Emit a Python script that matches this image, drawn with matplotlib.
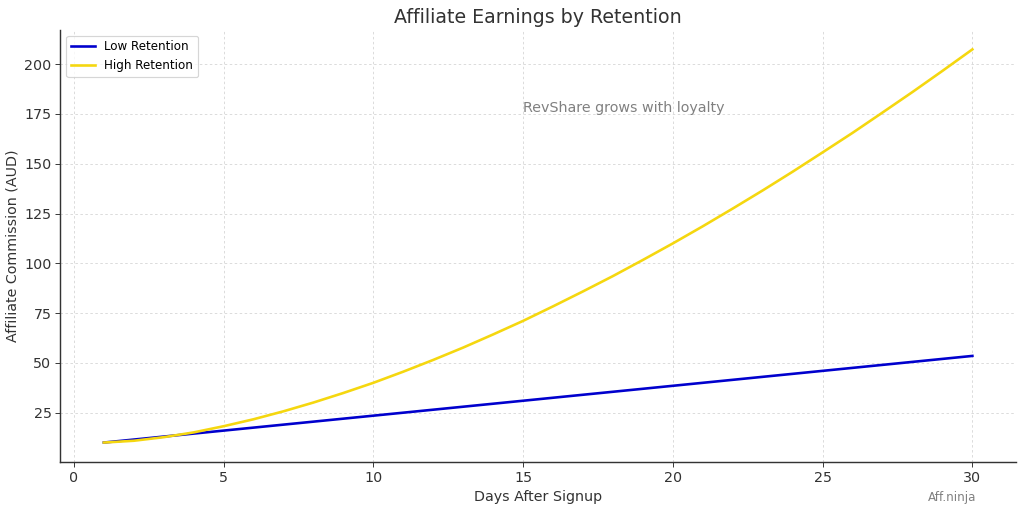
import matplotlib
matplotlib.use("Agg")
import matplotlib.pyplot as plt

days = list(range(1, 31))
low_retention = [10.0, 11.5, 13.0, 14.5, 16.0, 17.5, 19.0, 20.5, 22.0, 23.5,
                 25.0, 26.5, 28.0, 29.5, 31.0, 32.5, 34.0, 35.5, 37.0, 38.5,
                 40.0, 41.5, 43.0, 44.5, 46.0, 47.5, 49.0, 50.5, 52.0, 53.5]
high_retention = [10.0, 10.9, 12.7, 15.1, 18.2, 21.7, 25.7, 30.1, 34.9, 40.0,
                  45.6, 51.5, 57.7, 64.3, 71.1, 78.4, 85.9, 93.6, 101.7, 110.0,
                  118.6, 127.5, 136.6, 146.0, 155.7, 165.5, 175.7, 186.0, 196.6, 207.4]
series_labels = ["Low Retention", "High Retention"]
title = "Affiliate Earnings by Retention"
xlabel = "Days After Signup"
ylabel = "Affiliate Commission (AUD)"
note = "RevShare grows with loyalty"
watermark = "Aff.ninja"

plt.rcParams['font.family'] = ['DejaVu Sans']
fig, ax = plt.subplots(figsize=(12, 6.012), dpi=1024 / 12)
fig.subplots_adjust(left=0.059, right=0.992, top=0.942, bottom=0.099)

ax.plot(days, low_retention, color="mediumblue", lw=2.2, label=series_labels[0])
ax.plot(days, high_retention, color="#f5d70f", lw=2.2, label=series_labels[1])

ax.set_title(title, fontsize=16, color="#333333")
ax.set_xlabel(xlabel, fontsize=12, color="#333333")
ax.set_ylabel(ylabel, fontsize=12, color="#333333")
ax.tick_params(labelsize=12, colors="#333333", length=4)
ax.set_yticks([25, 50, 75, 100, 125, 150, 175, 200])
ax.grid(True, linestyle=(0, (3, 3)), color="#d5d5d5", linewidth=0.7)
for s in ["top", "right"]:
    ax.spines[s].set_visible(False)
for s in ["left", "bottom"]:
    ax.spines[s].set_color("#333333")
    ax.spines[s].set_linewidth(1.2)

ax.text(15, 178, note, fontsize=12, color="gray", va="center", ha="left")
ax.legend(loc="upper left", fontsize=10)
fig.text(0.93, 0.03, watermark, fontsize=10, color="gray", ha="center", va="center")

fig.savefig("out.png", dpi=1024 / 12)
